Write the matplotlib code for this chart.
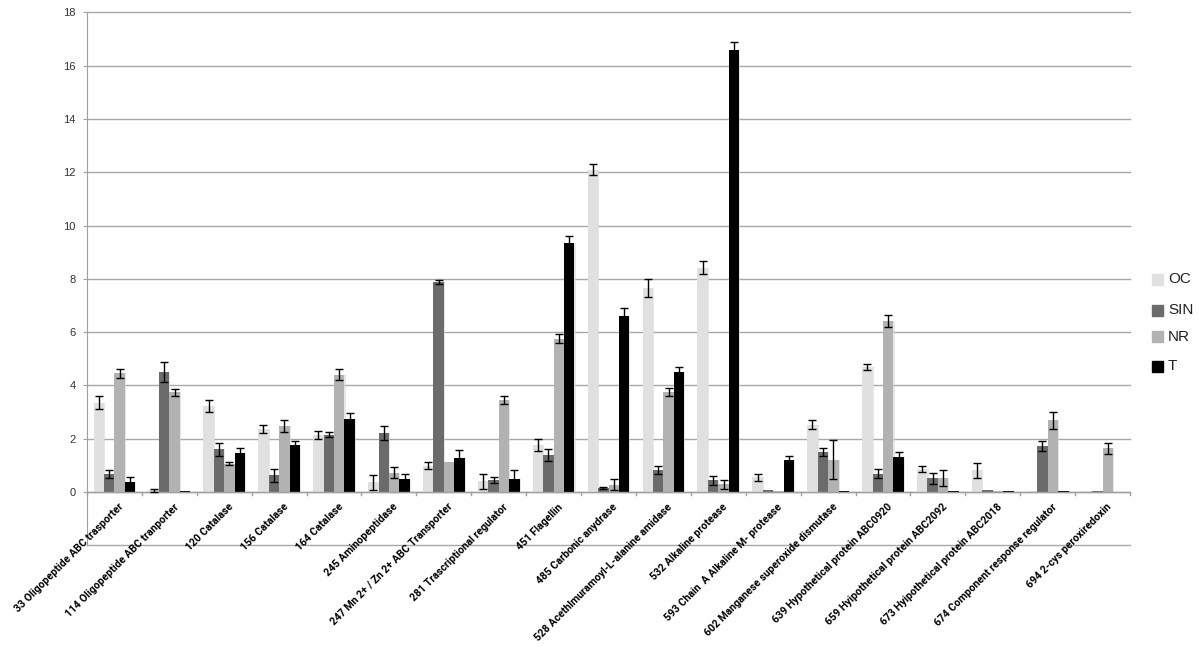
import matplotlib
matplotlib.use("Agg")
import matplotlib.pyplot as plt
import numpy as np
from matplotlib.patches import Rectangle
from matplotlib.transforms import offset_copy

categories = [
    "33 Oligopeptide ABC trasporter",
    "114 Oligopeptide ABC tranporter",
    "120 Catalase",
    "156 Catalase",
    "164 Catalase",
    "245 Aminopeptidase",
    "247 Mn 2+ / Zn 2+ ABC Transporter",
    "281 Trascriptional regulator",
    "451 Flagellin",
    "485 Carbonic anydrase",
    "528 Acethlmuramoyl-L-alanine amidase",
    "532 Alkaline protease",
    "593 Chain  A Alkaline M- protease",
    "602 Manganese superoxide dismutase",
    "639 Hypothetical protein ABC0920",
    "659 Hyipothetical protein ABC2092",
    "673 Hyipothetical protein ABC2018",
    "674 Component response regulator",
    "694 2-cys peroxiredoxin",
]

series_names = ["OC", "SIN", "NR", "T"]

oc = [3.35, 0.05, 3.22, 2.35, 2.15, 0.35, 0.97, 0.40, 1.77, 12.10, 7.65, 8.42, 0.55, 2.52, 4.68, 0.85, 0.80, 0.02, 0.02]
sin = [0.68, 4.50, 1.59, 0.62, 2.15, 2.21, 7.89, 0.44, 1.37, 0.15, 0.82, 0.43, 0.05, 1.48, 0.68, 0.50, 0.07, 1.72, 0.02]
nr = [4.45, 3.74, 1.06, 2.46, 4.40, 0.72, 1.11, 3.43, 5.75, 0.27, 3.76, 0.28, 0.02, 1.21, 6.41, 0.53, 0.02, 2.69, 1.63]
t = [0.37, 0.03, 1.46, 1.76, 2.75, 0.47, 1.28, 0.47, 9.35, 6.60, 4.50, 16.58, 1.18, 0.03, 1.32, 0.02, 0.02, 0.03, 0.00]

oc_err = [0.25, 0.07, 0.22, 0.15, 0.15, 0.28, 0.13, 0.28, 0.23, 0.20, 0.35, 0.25, 0.13, 0.16, 0.12, 0.10, 0.28, 0.00, 0.00]
sin_err = [0.15, 0.37, 0.25, 0.25, 0.10, 0.26, 0.08, 0.10, 0.22, 0.04, 0.15, 0.17, 0.00, 0.15, 0.17, 0.20, 0.00, 0.20, 0.00]
nr_err = [0.17, 0.13, 0.04, 0.22, 0.22, 0.22, 0.00, 0.15, 0.16, 0.20, 0.15, 0.18, 0.00, 0.72, 0.22, 0.30, 0.00, 0.32, 0.22]
t_err = [0.17, 0.00, 0.19, 0.16, 0.19, 0.20, 0.30, 0.33, 0.27, 0.29, 0.20, 0.32, 0.17, 0.00, 0.17, 0.00, 0.00, 0.00, 0.00]

colors = ["#e0e0e0", "#6b6b6b", "#b2b2b2", "#000000"]

fig = plt.figure(figsize=(12, 6.47), dpi=100)
ax = fig.add_axes([0.0725, 0.1576, 0.8692, 0.8231])

n = len(categories)
x = np.arange(n)
bw = 0.19
offsets = [-1.5 * bw, -0.5 * bw, 0.5 * bw, 1.5 * bw]
vals = [oc, sin, nr, t]
errs = [oc_err, sin_err, nr_err, t_err]

ax.set_xlim(-0.5, n - 0.5)
ax.set_ylim(-2, 18)

for yv in range(0, 19, 2):
    ax.axhline(yv, color="#a8a8a8", lw=1.0, zorder=0, clip_on=False)
ax.axhline(-2, color="#a8a8a8", lw=1.0, zorder=0, clip_on=False)

for k in range(4):
    xs = x + offsets[k]
    ax.bar(xs + 0.02, vals[k], width=bw, bottom=0, color="#d8d8d8", alpha=0.6, zorder=1, linewidth=0)
    ax.bar(xs, vals[k], width=bw, color=colors[k], zorder=2, linewidth=0, label=series_names[k])
    e = np.array(errs[k])
    mask = e > 0
    ax.errorbar(xs[mask], np.array(vals[k])[mask], yerr=e[mask], fmt="none",
                ecolor="black", elinewidth=1.0, capsize=3, capthick=1.0, zorder=3)

for s in ["top", "right", "bottom"]:
    ax.spines[s].set_visible(False)
ax.spines["left"].set_color("#a0a0a0")
ax.axhline(0, color="#a0a0a0", lw=1.0, zorder=2.5)

ax.set_yticks(range(0, 19, 2))
ax.set_yticklabels([str(v) for v in range(0, 19, 2)], fontsize=8, color="#333333", family="Liberation Sans")
ax.tick_params(axis="y", length=3, color="#a0a0a0", pad=5)

ax.set_xticks([])
for b in np.arange(-0.5, n + 0.5, 1.0):
    ax.plot([b, b], [0, -0.12], color="#a0a0a0", lw=1.0, clip_on=False, zorder=2.5)

lt = offset_copy(ax.transData, fig=fig, x=4, y=-10, units="dots")
for i, lab in enumerate(categories):
    ax.text(i, 0, lab, rotation=45, ha="right", va="top", rotation_mode="anchor",
            fontsize=7.6, fontweight="bold", family="Roboto", color="black",
            transform=lt, clip_on=False)

leg_y = [279, 310, 337, 366]
for k in range(4):
    yf = 1 - leg_y[k] / 647
    fig.patches.append(Rectangle((1152 / 1200, yf - 5.5 / 647), 11 / 1200, 11 / 647,
                                 transform=fig.transFigure, color=colors[k], zorder=5))
    fig.text(1168 / 1200, yf, series_names[k], fontsize=11, va="center", ha="left",
             family="Liberation Sans", color="#222222")

fig.savefig("out.png", dpi=100)
